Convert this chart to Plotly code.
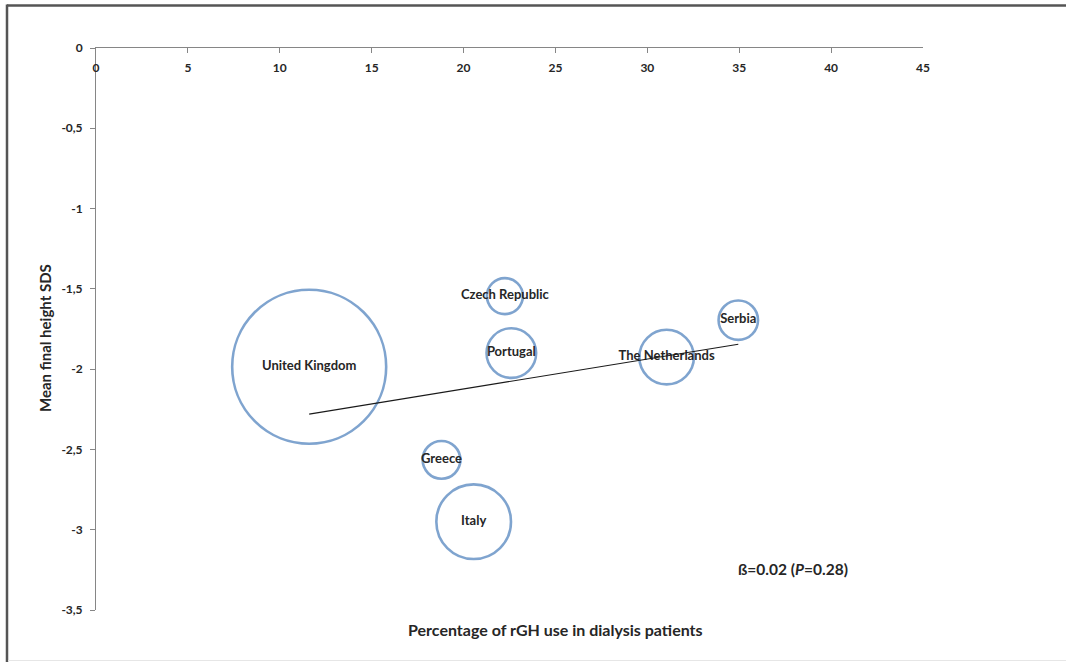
import plotly.graph_objects as go

# Country-level results: rGH use (%) vs mean final height SDS, bubble = cohort size
countries = ["United Kingdom", "Czech Republic", "Portugal", "Greece",
             "Italy", "The Netherlands", "Serbia"]
rgh_pct = [11.6, 22.25, 22.6, 18.8, 20.55, 31.05, 34.95]
height_sds = [-1.985, -1.545, -1.90, -2.565, -2.95, -1.925, -1.695]
patients = [183, 10, 19, 11, 43, 23, 12]

# Fitted regression line (endpoints over the observed x range)
trend_x = [11.6, 34.95]
trend_y = [-2.28, -1.845]

x_ticks = [0, 5, 10, 15, 20, 25, 30, 35, 40, 45]
y_ticks = [0, -0.5, -1, -1.5, -2, -2.5, -3, -3.5]
y_tick_text = ["0", "-0,5", "-1", "-1,5", "-2", "-2,5", "-3", "-3,5"]

W, H = 1066, 662
L, R, T, B = 96, 143, 48, 52
pw, ph = W - L - R, H - T - B


def px_x(p):
    return (p - L) / pw


def px_y(p):
    return 1 - (p - T) / ph


FONT = "Lato"
TXT = "#262626"
AXIS = "#868686"
BUBBLE = "#4A7EBB"

max_r = 77
sizeref = max(patients) / (2 * max_r ** 2)

fig = go.Figure()

fig.add_trace(go.Scatter(
    x=rgh_pct, y=height_sds, mode="markers+text",
    text=countries, textposition="middle center",
    textfont=dict(family=FONT, size=13, color=TXT, weight="bold"),
    marker=dict(size=patients, sizemode="area", sizeref=sizeref,
                color="rgba(0,0,0,0)",
                line=dict(color=BUBBLE, width=2.6)),
    cliponaxis=False, showlegend=False, hoverinfo="skip",
))

fig.add_trace(go.Scatter(
    x=trend_x, y=trend_y, mode="lines",
    line=dict(color="#1a1a1a", width=1.1),
    showlegend=False, hoverinfo="skip",
))

fig.update_xaxes(
    range=[0, 45], side="top", tickvals=x_ticks,
    showline=True, linecolor=AXIS, linewidth=1,
    ticks="inside", ticklen=5, tickcolor=AXIS,
    ticklabelposition="inside", ticklabeloverflow="allow",
    ticklabelstandoff=10,
    tickfont=dict(family=FONT, size=12, color=TXT, weight="bold"),
    showgrid=False, zeroline=False,
)
fig.update_yaxes(
    range=[-3.5, 0], tickvals=y_ticks, ticktext=y_tick_text,
    showline=True, linecolor=AXIS, linewidth=1,
    ticks="outside", ticklen=5, tickcolor=AXIS, ticklabelstandoff=5,
    tickfont=dict(family=FONT, size=12, color=TXT, weight="bold"),
    showgrid=False, zeroline=False,
)

fig.add_annotation(
    x=px_x(555.5), y=px_y(629), xref="paper", yref="paper",
    xanchor="center", yanchor="middle",
    text="<b>Percentage of rGH use in dialysis patients</b>",
    showarrow=False, font=dict(family=FONT, size=16, color=TXT),
)
fig.add_annotation(
    x=px_x(45), y=px_y(338), xref="paper", yref="paper",
    xanchor="center", yanchor="middle",
    text="<b>Mean final height SDS</b>", textangle=-90,
    showarrow=False, font=dict(family=FONT, size=15, color=TXT),
)
fig.add_annotation(
    x=px_x(793), y=px_y(569), xref="paper", yref="paper",
    xanchor="center", yanchor="middle",
    text="<b>ß=0.02 (<i>P</i>=0.28)</b>",
    showarrow=False, font=dict(family=FONT, size=15.5, color=TXT),
)

# Frame around the chart
fig.add_shape(type="line", xref="paper", yref="paper",
              x0=px_x(7), x1=px_x(W + 5), y0=px_y(5.5), y1=px_y(5.5),
              line=dict(color="#555555", width=2.5))
fig.add_shape(type="line", xref="paper", yref="paper",
              x0=px_x(7), x1=px_x(7), y0=px_y(4.5), y1=px_y(H + 5),
              line=dict(color="#555555", width=2.5))
fig.add_shape(type="line", xref="paper", yref="paper",
              x0=px_x(8), x1=px_x(W + 5), y0=px_y(660.5), y1=px_y(660.5),
              line=dict(color="#e6e6e6", width=1))

fig.update_layout(
    width=W, height=H,
    margin=dict(l=L, r=R, t=T, b=B),
    paper_bgcolor="white", plot_bgcolor="white",
    font=dict(family=FONT),
)

fig.write_html("out.html")
